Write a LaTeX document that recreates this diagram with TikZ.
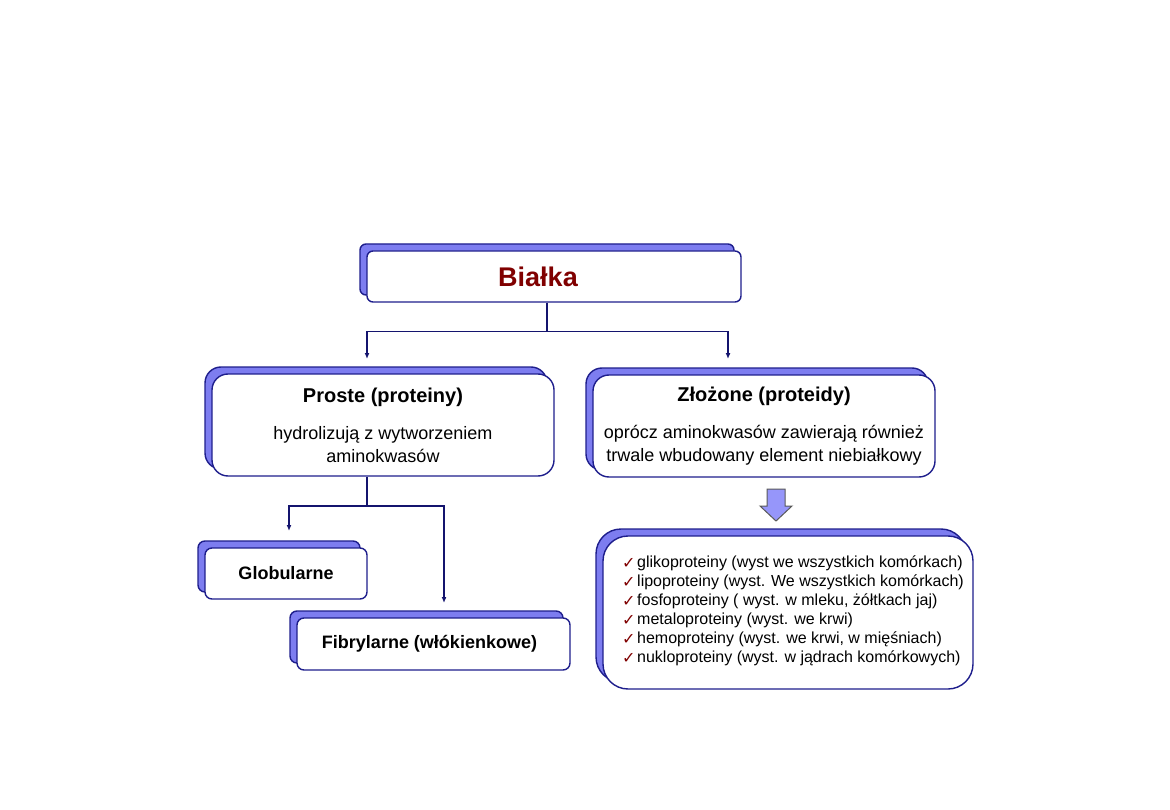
\documentclass[tikz,border=0pt]{standalone}
\usepackage{fontspec}
\setmainfont{Liberation Sans}
\newfontfamily\dejavu{DejaVu Sans}
\usetikzlibrary{arrows.meta,shadows}
\definecolor{ramka}{RGB}{30,30,140}
\definecolor{cien}{RGB}{125,125,240}
\definecolor{linia}{RGB}{20,20,110}
\definecolor{bordo}{RGB}{128,0,0}
\definecolor{strzalka}{RGB}{150,150,250}
\newcommand\haczyk{\makebox[16pt][l]{\hspace*{1pt}\raisebox{-0.5pt}{\dejavu\fontsize{16}{16}\selectfont\color{bordo}✓}}}
\tikzset{
  plate/.style={draw=ramka, fill=white, line width=1.4pt, rounded corners=#1, inner sep=0pt, align=center,
    copy shadow={shadow xshift=-7pt, shadow yshift=7pt, fill=cien, draw=ramka, line width=1.4pt}},
  plate/.default=6pt,
  conn/.style={draw=linia, line width=1.6pt},
  tip/.style={-{Latex[length=6pt,width=5pt]}},
}

\begin{document}
\begin{tikzpicture}[x=1pt,y=-1pt]
\useasboundingbox (0,0) rectangle (1170,810);
\node[plate, minimum width=374pt, minimum height=51pt, font=\fontsize{27}{30}\selectfont\bfseries, text=bordo] (bialka) at (554,276.5) {Białka\hspace*{32pt}};
\node[plate=16pt, minimum width=342pt, minimum height=102pt, font=\fontsize{18}{23}\selectfont] (proste) at (383,425) {{\fontsize{20}{24}\selectfont\bfseries Proste (proteiny)}\\[14pt]hydrolizują z wytworzeniem\\aminokwasów};
\node[plate=16pt, minimum width=342pt, minimum height=102pt, font=\fontsize{18}{23}\selectfont] (zlozone) at (764,426) {{\fontsize{20}{24}\selectfont\bfseries Złożone (proteidy)}\\[14pt]oprócz aminokwasów zawierają również\\trwale wbudowany element niebiałkowy};
\node[plate=7pt, minimum width=162pt, minimum height=51pt, font=\fontsize{18}{22}\selectfont\bfseries] (glob) at (286,573.5) {Globularne};
\node[plate=7pt, minimum width=273pt, minimum height=52pt, font=\fontsize{18}{22}\selectfont\bfseries] (fibr) at (433.5,644) {\raisebox{-3pt}{Fibrylarne (włókienkowe)}\hspace*{8pt}};
\node[plate=25pt, minimum width=370pt, minimum height=153pt] (lista) at (788,612.5) {};
\node[anchor=west, inner sep=0pt, align=left, font=\fontsize{16}{19}\selectfont] (listatekst) at (621,611) {\haczyk glikoproteiny (wyst we wszystkich komórkach)\\\haczyk lipoproteiny (wyst. We wszystkich komórkach)\\\haczyk fosfoproteiny ( wyst. w mleku, żółtkach jaj)\\\haczyk metaloproteiny (wyst. we krwi)\\\haczyk hemoproteiny (wyst. we krwi, w mięśniach)\\\haczyk nukloproteiny (wyst. w jądrach komórkowych)};
\coordinate (t1) at (367,359);
\coordinate (t2) at (728,359);
\coordinate (t3) at (289,531);
\coordinate (t4) at (444,603);
\draw[conn] ([xshift=-7pt]bialka.south) -- ++(0,29) coordinate (r1);
\draw[conn,tip] (r1) -| (t1);
\draw[conn,tip] (r1) -| (t2);
\draw[conn] ([xshift=-16pt]proste.south) -- ++(0,29) coordinate (r2);
\draw[conn,tip] (r2) -| (t3);
\draw[conn,tip] (r2) -| (t4);
\draw[fill=strzalka, draw=gray!70!black, line width=1pt] (767,489) -- (785,489) -- (785,506) -- (792,506) -- (776,521) -- (760,506) -- (767,506) -- cycle;
\end{tikzpicture}
\end{document}
